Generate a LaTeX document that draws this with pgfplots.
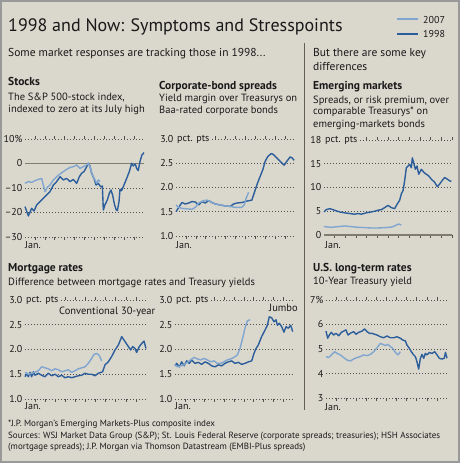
\documentclass[border=0pt]{standalone}
\usepackage{fontspec}
\setmainfont{PT Sans}
\usepackage{pgfplots}
\pgfplotsset{compat=1.18}
\definecolor{bg}{RGB}{218,215,205}
\definecolor{dk}{RGB}{44,94,155}
\definecolor{lt}{RGB}{128,166,208}
\definecolor{gridc}{RGB}{80,80,80}
\definecolor{txt}{RGB}{25,25,25}
\definecolor{zero}{RGB}{128,124,112}
\definecolor{divc}{RGB}{100,94,84}
\pgfplotsset{panel/.style={scale only axis, axis line style={draw=none},
  ymajorgrids, grid style={dash pattern=on 0.8pt off 2.2pt, line width=0.8pt, gridc},
  ytick style={draw=none}, xtick={1,...,11}, xticklabels={}, xtick align=outside,
  major tick length=3pt, xtick style={gridc, line width=0.6pt},
  tick label style={font=\fontsize{10}{10}\selectfont, text=txt},
  yticklabel style={inner sep=1pt, xshift=-1.5pt},
  xmin=0, xmax=12, clip=false,
  every axis plot/.append style={line width=1.4pt, line join=round, no marks}},
  d/.style={dk}, l/.style={lt}}
\tikzset{pp/.style={anchor=west, fill=bg, inner sep=1pt, font=\fontsize{10}{10}\selectfont, text=txt}}
\begin{document}
\begin{tikzpicture}
\path[use as bounding box] (0,0) rectangle (460pt,463pt);
\fill[bg] (0,0) rectangle (460pt,463pt);
\draw[gray!80, line width=2pt] (1pt,1pt) rectangle (459pt,462pt);
% Title and legend
\node[anchor=base west, inner sep=0, font=\fontsize{18}{20}\selectfont, text=txt] at (8pt,431.3pt) {1998 and Now: Symptoms and Stresspoints};
\draw[lt, line width=2pt] (397pt,444pt) -- (418pt,444pt);
\node[anchor=base west, inner sep=0, font=\fontsize{10}{10}\selectfont, text=txt] at (423pt,439.7pt) {2007};
\draw[dk, line width=2pt] (397pt,429.3pt) -- (418pt,429.3pt);
\node[anchor=base west, inner sep=0, font=\fontsize{10}{10}\selectfont, text=txt] at (423pt,425.3pt) {1998};
\node[anchor=base west, inner sep=0, font=\fontsize{11.5}{13}\selectfont, text=txt] at (8pt,406.3pt) {Some market responses are tracking those in 1998...};
\node[anchor=base west, inner sep=0, font=\fontsize{11.5}{13}\selectfont, text=txt] at (313pt,406.3pt) {But there are some key};
\node[anchor=base west, inner sep=0, font=\fontsize{11.5}{13}\selectfont, text=txt] at (313pt,392pt) {differences};
\draw[divc, line width=0.9pt] (304pt,420pt) -- (304pt,53pt);
% Panel headings
\begin{scope}[every node/.style={anchor=base west, inner sep=0, text=txt}]
\node[font=\fontsize{11.5}{13}\selectfont\bfseries] at (8pt,377.3pt) {Stocks};
\node[font=\fontsize{10.5}{12}\selectfont] at (8pt,362pt) {The S\&P 500-stock index,};
\node[font=\fontsize{10.5}{12}\selectfont] at (8pt,350.5pt) {indexed to zero at its July high};
\node[font=\fontsize{11.5}{13}\selectfont\bfseries] at (159pt,373pt) {Corporate-bond spreads};
\node[font=\fontsize{10.5}{12}\selectfont] at (159pt,361.3pt) {Yield margin over Treasurys on};
\node[font=\fontsize{10.5}{12}\selectfont] at (159pt,349.7pt) {Baa-rated corporate bonds};
\node[font=\fontsize{11.5}{13}\selectfont\bfseries] at (313pt,373pt) {Emerging markets};
\node[font=\fontsize{10.5}{12}\selectfont] at (313pt,359.7pt) {Spreads, or risk premium, over};
\node[font=\fontsize{10.5}{12}\selectfont] at (313pt,348pt) {comparable Treasurys* on};
\node[font=\fontsize{10.5}{12}\selectfont] at (313pt,335.7pt) {emerging-markets bonds};
\node[font=\fontsize{11.5}{13}\selectfont\bfseries] at (8pt,191.3pt) {Mortgage rates};
\node[font=\fontsize{10.5}{12}\selectfont] at (8pt,177pt) {Difference between mortgage rates and Treasury yields};
\node[font=\fontsize{11.5}{13}\selectfont\bfseries] at (313pt,191.3pt) {U.S. long-term rates};
\node[font=\fontsize{10.5}{12}\selectfont] at (313pt,178pt) {10-Year Treasury yield};
\node[font=\fontsize{10.5}{12}\selectfont] at (59pt,148.7pt) {Conventional 30-year};
\node[font=\fontsize{10.5}{12}\selectfont] at (269pt,151.3pt) {Jumbo};
\node[font=\fontsize{10}{10}\selectfont] at (25pt,214.7pt) {Jan.};
\node[font=\fontsize{10}{10}\selectfont] at (176pt,214.7pt) {Jan.};
\node[font=\fontsize{10}{10}\selectfont] at (325pt,214.7pt) {Jan.};
\node[font=\fontsize{10}{10}\selectfont] at (25pt,53pt) {Jan.};
\node[font=\fontsize{10}{10}\selectfont] at (175pt,53pt) {Jan.};
\node[font=\fontsize{10}{10}\selectfont] at (325pt,52pt) {Jan.};
\node[font=\fontsize{9}{10}\selectfont] at (8pt,36.3pt) {*J.P. Morgan's Emerging Markets-Plus composite index};
\node[font=\fontsize{9}{10}\selectfont] at (8pt,24pt) {Sources: WSJ Market Data Group (S\&P); St. Louis Federal Reserve (corporate spreads; treasuries); HSH Associates};
\node[font=\fontsize{9}{10}\selectfont] at (8pt,13.7pt) {(mortgage spreads); J.P. Morgan via Thomson Datastream (EMBI-Plus spreads)};
\end{scope}
% Stocks
\begin{axis}[panel, at={(25pt,226pt)}, anchor=south west, width=119pt, height=98pt,
  ymin=-30, ymax=10, ytick={-30,-20,-10,10}, yticklabels={\textendash30,\textendash20,\textendash10,10\%},
  extra y ticks={0}, extra y tick labels={0}, extra y tick style={grid style={solid, line width=1.5pt, zero}}]
\addplot[d] coordinates {(0,-17.6)(0.34,-21.4)(0.67,-18.3)(0.91,-19.4)(1.18,-16.9)(1.51,-15.6)(1.85,-14.2)(2.18,-12.9)(2.52,-11.5)(2.86,-8.8)(3.19,-7.4)(3.53,-5.4)(3.86,-6.7)(4.2,-6.1)(4.54,-7.4)(4.87,-6.5)(5.21,-8.1)(5.48,-5.4)(5.71,-4.0)(5.95,-3.3)(6.22,-1.3)(6.38,0.1)(6.55,-1.0)(6.72,-4.0)(6.96,-6.1)(7.16,-8.8)(7.39,-8.1)(7.63,-9.5)(7.8,-9.2)(7.9,-19.0)(8.06,-16.9)(8.3,-14.9)(8.5,-12.2)(8.67,-10.8)(8.84,-12.9)(9.0,-16.3)(9.17,-18.7)(9.31,-19.3)(9.48,-15.6)(9.58,-10.5)(9.74,-11.1)(9.98,-8.8)(10.25,-6.1)(10.52,-3.3)(10.75,0.1)(10.92,-1.0)(11.12,-0.2)(11.26,-2.0)(11.42,-2.9)(11.59,0.7)(11.79,3.5)(12.0,4.4)};
\addplot[l] coordinates {(0,-8.1)(0.34,-7.4)(0.67,-7.7)(1.01,-7.0)(1.34,-6.5)(1.68,-6.1)(1.85,-8.8)(2.02,-11.5)(2.25,-9.7)(2.52,-8.8)(2.86,-6.7)(3.19,-5.4)(3.53,-4.3)(3.86,-3.3)(4.2,-2.4)(4.54,-1.6)(4.87,-1.3)(5.21,-0.6)(5.54,-2.0)(5.88,-1.3)(6.22,-0.6)(6.38,0.1)(6.55,-1.3)(6.72,-3.7)(6.89,-5.4)(7.06,-6.7)(7.22,-8.1)(7.39,-6.7)(7.56,-7.4)};
\end{axis}
% Corporate bonds
\begin{axis}[panel, at={(176pt,227pt)}, anchor=south west, width=119pt, height=97pt,
  ymin=1, ymax=3, ytick={1,1.5,2,2.5,3}, yticklabels={1.0,1.5,2.0,2.5,3.0}]
\addplot[d] coordinates {(0,1.50)(0.27,1.59)(0.6,1.69)(0.94,1.66)(1.28,1.68)(1.61,1.71)(1.95,1.70)(2.28,1.64)(2.62,1.71)(2.95,1.68)(3.29,1.73)(3.62,1.69)(3.96,1.66)(4.46,1.64)(4.97,1.62)(5.47,1.61)(5.81,1.66)(6.14,1.68)(6.64,1.69)(7.15,1.72)(7.65,1.74)(7.99,1.95)(8.22,2.09)(8.49,2.23)(8.76,2.37)(8.99,2.54)(9.26,2.64)(9.6,2.70)(9.83,2.68)(10.17,2.61)(10.5,2.54)(10.91,2.46)(11.17,2.54)(11.51,2.63)(11.71,2.61)(11.91,2.56)};
\addplot[l] coordinates {(0,1.64)(0.27,1.59)(0.6,1.57)(1.11,1.56)(1.61,1.55)(1.95,1.59)(2.28,1.68)(2.79,1.73)(3.12,1.74)(3.46,1.71)(3.96,1.66)(4.46,1.64)(4.97,1.62)(5.47,1.61)(5.97,1.59)(6.64,1.59)(6.88,1.64)(7.08,1.78)(7.32,1.90)};
\node[pp] at (axis cs:0,3) {pct. pts};
\end{axis}
% Emerging markets
\begin{axis}[panel, at={(324pt,228pt)}, anchor=south west, width=128pt, height=95pt,
  xtick={1,...,12},
  ymin=0, ymax=20, ytick={5,10,15,20}, yticklabels={5,10,15,18},
  extra y ticks={0}, extra y tick labels={0}, extra y tick style={grid style={solid, line width=1.2pt, zero}}]
\addplot[d] coordinates {(0,4.86)(0.22,5.34)(0.53,5.55)(0.84,5.34)(1.16,5.07)(1.47,4.86)(1.94,4.66)(2.41,4.52)(2.88,4.38)(3.19,4.52)(3.5,4.38)(3.97,4.66)(4.44,4.86)(4.75,5.0)(5.06,5.21)(5.38,5.34)(5.69,5.76)(6.0,6.24)(6.31,5.76)(6.63,5.55)(6.88,6.59)(7.09,7.28)(7.25,8.66)(7.41,9.34)(7.56,11.41)(7.72,14.17)(7.88,14.52)(8.03,14.86)(8.19,14.17)(8.28,16.24)(8.41,15.21)(8.56,13.83)(8.72,14.52)(8.88,12.79)(9.13,13.83)(9.38,13.14)(9.59,12.79)(9.81,12.45)(10.06,11.76)(10.38,11.07)(10.63,10.17)(10.84,10.72)(11.06,11.41)(11.31,12.1)(11.56,11.76)(11.78,11.41)(11.94,11.28)};
\addplot[l] coordinates {(0,1.76)(0.69,1.62)(1.31,1.76)(1.94,1.9)(2.56,1.76)(3.19,1.62)(3.81,1.55)(4.44,1.48)(5.06,1.48)(5.69,1.55)(6.16,1.62)(6.47,1.76)(6.78,2.1)(7.0,2.31)(7.25,2.1)};
\node[pp] at (axis cs:0,20) {pct. pts};
\end{axis}
% Conventional mortgage
\begin{axis}[panel, at={(25pt,64pt)}, anchor=south west, width=121pt, height=99pt,
  ymin=1, ymax=3, ytick={1,1.5,2,2.5,3}, yticklabels={1.0,1.5,2.0,2.5,3.0}]
\addplot[d] coordinates {(0,1.45)(0.17,1.52)(0.33,1.45)(0.5,1.54)(0.66,1.45)(0.83,1.55)(0.99,1.48)(1.32,1.52)(1.65,1.48)(1.98,1.45)(2.31,1.52)(2.64,1.47)(2.98,1.5)(3.31,1.45)(3.64,1.48)(3.97,1.43)(4.3,1.45)(4.63,1.43)(4.96,1.45)(5.29,1.47)(5.62,1.48)(5.95,1.52)(6.28,1.5)(6.61,1.5)(6.94,1.47)(7.27,1.52)(7.7,1.55)(7.93,1.69)(8.26,1.75)(8.6,1.86)(8.93,1.99)(9.26,2.09)(9.59,2.26)(9.92,2.16)(10.25,2.06)(10.48,1.99)(10.68,2.06)(10.91,2.02)(11.07,1.94)(11.34,2.06)(11.57,2.12)(11.8,2.17)(12.0,2.02)};
\addplot[l] coordinates {(0,1.54)(0.33,1.5)(0.66,1.52)(0.99,1.54)(1.32,1.57)(1.65,1.65)(1.98,1.63)(2.31,1.61)(2.64,1.57)(2.98,1.61)(3.31,1.59)(3.64,1.55)(3.97,1.57)(4.3,1.59)(4.63,1.54)(4.96,1.57)(5.29,1.61)(5.62,1.63)(5.95,1.65)(6.28,1.72)(6.61,1.82)(6.84,1.9)(7.11,1.92)(7.37,1.88)(7.6,1.77)};
\node[pp] at (axis cs:0,3) {pct. pts};
\end{axis}
% Jumbo mortgage
\begin{axis}[panel, at={(175pt,64pt)}, anchor=south west, width=118pt, height=99pt,
  ymin=1, ymax=3, ytick={1,1.5,2,2.5,3}, yticklabels={1.0,1.5,2.0,2.5,3.0}]
\addplot[d] coordinates {(0,1.67)(0.17,1.72)(0.44,1.65)(0.68,1.75)(0.92,1.67)(1.19,1.77)(1.46,1.72)(1.69,1.79)(2.03,1.72)(2.37,1.74)(2.71,1.7)(3.05,1.75)(3.39,1.72)(3.73,1.67)(4.07,1.65)(4.41,1.69)(4.75,1.67)(5.08,1.72)(5.42,1.75)(5.76,1.77)(6.1,1.72)(6.44,1.74)(6.78,1.7)(7.12,1.72)(7.46,1.75)(7.8,1.77)(8.03,1.92)(8.24,2.02)(8.47,2.09)(8.81,2.26)(9.15,2.39)(9.39,2.49)(9.59,2.66)(9.83,2.64)(10.07,2.56)(10.27,2.6)(10.41,2.49)(10.61,2.53)(10.85,2.46)(11.08,2.35)(11.29,2.46)(11.53,2.43)(11.76,2.49)(11.97,2.36)};
\addplot[l] coordinates {(0,1.69)(0.24,1.65)(0.58,1.67)(0.92,1.69)(1.25,1.74)(1.59,1.79)(1.93,1.84)(2.27,1.81)(2.61,1.79)(2.95,1.82)(3.29,1.79)(3.63,1.75)(3.97,1.77)(4.31,1.72)(4.64,1.72)(4.98,1.75)(5.32,1.79)(5.66,1.81)(6.0,1.84)(6.34,1.89)(6.61,2.02)(6.88,2.23)(7.12,2.43)(7.36,2.58)(7.63,2.6)};
\node[pp] at (axis cs:0,3) {pct. pts};
\end{axis}
% US long-term rates
\begin{axis}[panel, at={(326pt,65pt)}, anchor=south west, width=121pt, height=98pt,
  ymin=3, ymax=7, ytick={3,4,5,6,7}, yticklabels={3,4,5,6,7\%}]
\addplot[d] coordinates {(0,5.73)(0.17,5.44)(0.33,5.57)(0.53,5.68)(0.76,5.57)(0.99,5.64)(1.26,5.54)(1.52,5.68)(1.75,5.73)(1.98,5.78)(2.18,5.57)(2.41,5.64)(2.74,5.71)(2.98,5.6)(3.24,5.68)(3.57,5.73)(3.83,5.82)(4.07,5.71)(4.3,5.64)(4.56,5.64)(4.83,5.6)(5.06,5.57)(5.39,5.5)(5.72,5.46)(6.05,5.53)(6.38,5.46)(6.71,5.46)(7.04,5.5)(7.37,5.44)(7.6,5.37)(7.87,5.33)(8.03,5.16)(8.26,5.03)(8.46,4.89)(8.69,4.76)(8.86,4.69)(9.02,4.48)(9.19,4.18)(9.36,4.62)(9.52,4.78)(9.69,4.62)(9.85,4.82)(10.02,4.76)(10.25,4.86)(10.51,4.82)(10.78,4.89)(11.01,4.76)(11.24,4.62)(11.5,4.59)(11.72,4.62)(11.85,4.86)(12.0,4.62)};
\addplot[l] coordinates {(0,4.69)(0.26,4.65)(0.6,4.78)(0.86,4.89)(1.09,4.82)(1.42,4.76)(1.75,4.65)(2.08,4.55)(2.41,4.51)(2.74,4.59)(3.07,4.65)(3.4,4.69)(3.74,4.76)(4.07,4.73)(4.4,4.78)(4.73,4.89)(5.06,5.05)(5.39,5.23)(5.62,5.19)(5.88,5.14)(6.15,5.19)(6.38,5.1)(6.61,5.03)(6.88,4.86)(7.14,4.76)(7.37,4.89)};
\end{axis}
\end{tikzpicture}
\end{document}
